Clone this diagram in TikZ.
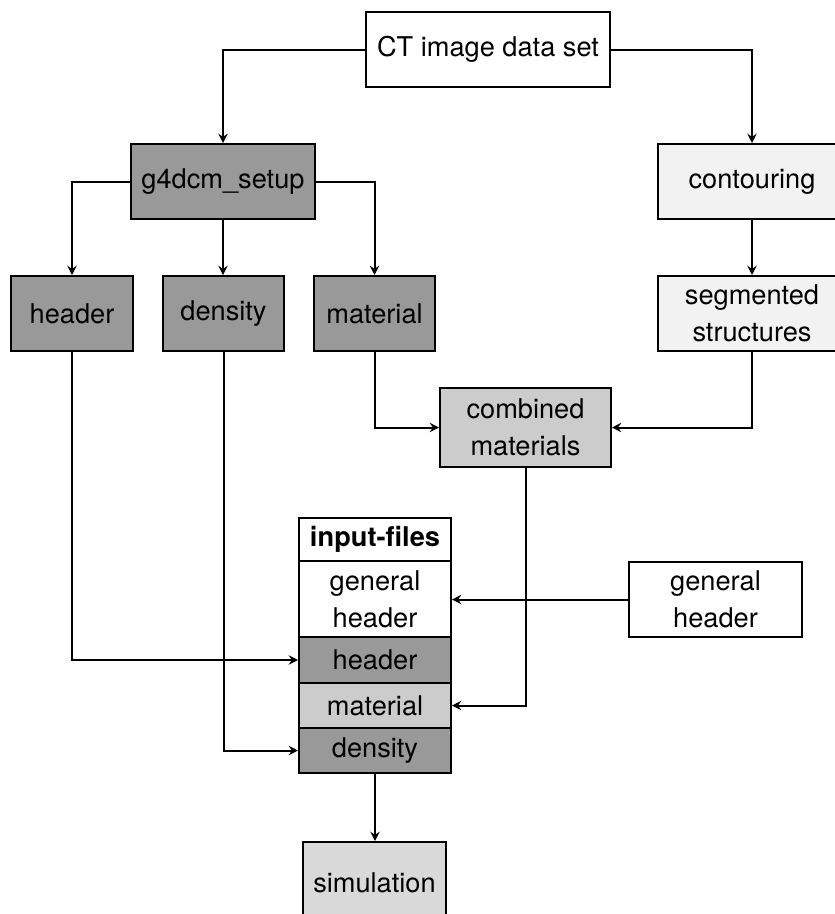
\documentclass[tikz,border=0pt]{standalone}
\usepackage{fontspec}
\setmainfont{TeX Gyre Heros}
\usetikzlibrary{arrows.meta}
\definecolor{darkfill}{HTML}{999999}
\definecolor{midfill}{HTML}{CCCCCC}
\definecolor{simfill}{HTML}{D9D9D9}
\definecolor{palefill}{HTML}{F2F2F2}
\begin{document}
\begin{tikzpicture}[x=0.75pt,y=-0.75pt,
  font=\fontsize{20.4pt}{27.5pt}\selectfont,
  box/.style={draw=black,line width=1.5pt,inner sep=0pt,align=center,
    minimum height=56.25pt},
  arr/.style={line width=1.5pt,-{Stealth[length=7pt,width=7pt,inset=2.5pt]}},
  link/.style={line width=1.5pt}]
\useasboundingbox (0,0) rectangle (835,914);
\clip (0,0) rectangle (835,914);

% sources and processing steps
\node[box,fill=white,minimum width=183pt] (ct) at (488,49.5) {CT image data set};
\node[box,fill=darkfill,minimum width=138pt] (g4) at (223,181.5) {g4dcm\_setup};
\node[box,fill=palefill,minimum width=141pt,text width=141pt] (cont) at (752,181.5) {contouring};
\node[box,fill=darkfill,minimum width=91pt] (hdr) at (72,313.5) {header};
\node[box,fill=darkfill,minimum width=91pt] (dens) at (223.5,313.5) {density};
\node[box,fill=darkfill,minimum width=91pt] (mat) at (374.5,313.5) {material};
\node[box,fill=palefill,minimum width=141pt,text width=141pt] (seg) at (752,313.5) {segmented\\structures};
\node[box,fill=midfill,minimum width=128.25pt,minimum height=59.25pt] (comb) at (525.5,427.5) {combined\\materials};

% stacked input-files block
\node[box,fill=white,minimum width=114pt,minimum height=32.25pt] (sttl) at (375,539.5) {\bfseries input-files};
\node[box,fill=white,minimum width=114pt,minimum height=57pt] (sgh) at (375,599) {general\\header};
\node[box,fill=darkfill,minimum width=114pt,minimum height=34.5pt] (shdr) at (375,660) {header};
\node[box,fill=midfill,minimum width=114pt,minimum height=33.75pt] (smat) at (375,705.5) {material};
\node[box,fill=darkfill,minimum width=114pt,minimum height=33.75pt] (sdens) at (375,750.5) {density};

\node[box,fill=white,minimum width=129.75pt] (rgh) at (715.5,599.5) {general\\header};
\node[box,fill=simfill,minimum width=107.25pt,minimum height=61.5pt] (sim) at (374.5,883) {simulation};

% connectors
\draw[arr] (ct.west) -| (g4.north);
\draw[arr] (ct.east) -| (cont.north);
\draw[arr] (g4.west) -| (hdr.north);
\draw[arr] (g4.south) -- (g4.south |- dens.north);
\draw[arr] (g4.east) -| (mat.north);
\draw[arr] (cont.south) -- (seg.north);
\draw[arr] (mat.south) |- (comb.west);
\draw[arr] (seg.south) |- (comb.east);
\draw[arr] (hdr.south) |- (shdr.west);
\draw[arr] (dens.south) |- (sdens.west);
\draw[arr] (comb.south) |- (smat.east);
\draw[arr] (rgh.west) -- (rgh.west -| sgh.east);
\draw[arr] (sdens.south) -- (sdens.south |- sim.north);
\end{tikzpicture}
\end{document}
